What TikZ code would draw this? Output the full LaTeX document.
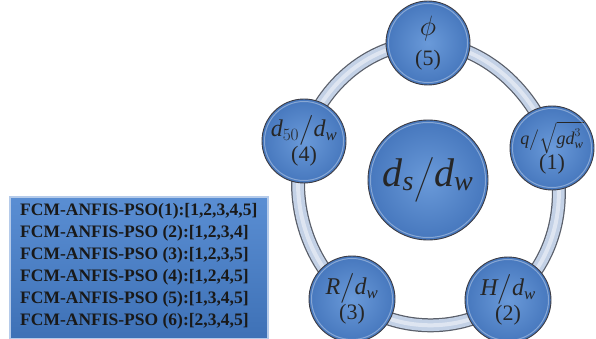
\documentclass[tikz,border=0pt]{standalone}
\usepackage{amsmath}
\usepackage{fontspec}
\setmainfont{Liberation Serif}
\usetikzlibrary{shadings}
\definecolor{ballin}{HTML}{6A9AD9}
\definecolor{ballout}{HTML}{4677BD}
\definecolor{ballline}{HTML}{3C3C44}
\definecolor{ringline}{HTML}{5A5F6A}
\definecolor{ringfill}{HTML}{C3D1E6}
\definecolor{boxtop}{HTML}{5A8ED3}
\definecolor{boxbot}{HTML}{3E71B6}
\definecolor{boxline}{HTML}{B5CBEA}
\newcommand\vi[1]{\textit{#1}}
\tikzset{
  ball/.style={circle, draw=ballline, line width=0.9pt, inner sep=0pt,
    shading=radial, inner color=ballin, outer color=ballout,
    align=center, text=black!85},
  ringband/.style={line width=#1, line join=round},
  boxtext/.style={anchor=west, font=\fontsize{17.5}{17.5}\bfseries\selectfont, text=black!90, inner sep=0pt}
}
\begin{document}
\begin{tikzpicture}[x=1pt,y=-1pt]
\useasboundingbox (0,0) rectangle (596,339);
% positions
\coordinate (p5) at (428,43);
\coordinate (p1) at (552,148);
\coordinate (p2) at (508,300);
\coordinate (p3) at (352,299);
\coordinate (p4) at (304,141);
% ring
\def\ringpath{plot[smooth cycle, tension=0.8] coordinates {(p5) (p1) (p2) (p3) (p4)}}
\draw[ringline, ringband=14pt] \ringpath;
\draw[ringfill, ringband=11.5pt] \ringpath;
\draw[white, opacity=0.45, ringband=4pt] \ringpath;
% center
\node[ball, minimum size=120pt, font=\fontsize{40}{40}\selectfont] (c) at (428,180)
  {$\vi{d}_{\vi{s}}\Big/\vi{d}_{\vi{w}}$};
% outer nodes
\node[ball, minimum size=84pt, font=\fontsize{22}{22}\selectfont] (n5) at (p5)
  {\scalebox{1.35}{$\phi$}\\[8pt](5)};
\node[ball, minimum size=84pt, font=\fontsize{18}{18}\selectfont] (n1) at (p1)
  {$\vi{q}\big/\sqrt{\vi{g}\vi{d}_{\vi{w}}^{3}}$\\[0pt]{\fontsize{22}{22}\selectfont(1)}};
\node[ball, minimum size=86pt, font=\fontsize{24}{22}\selectfont] (n2) at (p2)
  {$\vi{H}\big/\vi{d}_{\vi{w}}$\\[0pt]{\fontsize{22}{22}\selectfont(2)}};
\node[ball, minimum size=86pt, font=\fontsize{24}{22}\selectfont] (n3) at (p3)
  {$\vi{R}\big/\vi{d}_{\vi{w}}$\\[0pt]{\fontsize{22}{22}\selectfont(3)}};
\node[ball, minimum size=84pt, font=\fontsize{24}{22}\selectfont] (n4) at (p4)
  {$\vi{d}_{50}\big/\vi{d}_{\vi{w}}$\\[0pt]{\fontsize{22}{22}\selectfont(4)}};
\foreach \n/\r in {c/57.5, n5/39.5, n1/39.5, n2/40.5, n3/40.5, n4/39.5}{
  \draw[white, opacity=0.35, line width=1pt] (\n) circle[radius=\r];
}
% box
\shade[top color=boxtop, bottom color=boxbot, draw=boxline, line width=1.5pt]
  (10,197) rectangle (268,339);
\node[boxtext] (t1) at (20,211) {FCM-ANFIS-PSO(1):[1,2,3,4,5]};
\node[boxtext] (t2) at (20,233) {FCM-ANFIS-PSO (2):[1,2,3,4]};
\node[boxtext] (t3) at (20,255) {FCM-ANFIS-PSO (3):[1,2,3,5]};
\node[boxtext] (t4) at (20,277) {FCM-ANFIS-PSO (4):[1,2,4,5]};
\node[boxtext] (t5) at (20,299) {FCM-ANFIS-PSO (5):[1,3,4,5]};
\node[boxtext] (t6) at (20,321) {FCM-ANFIS-PSO (6):[2,3,4,5]};
\end{tikzpicture}
\end{document}
